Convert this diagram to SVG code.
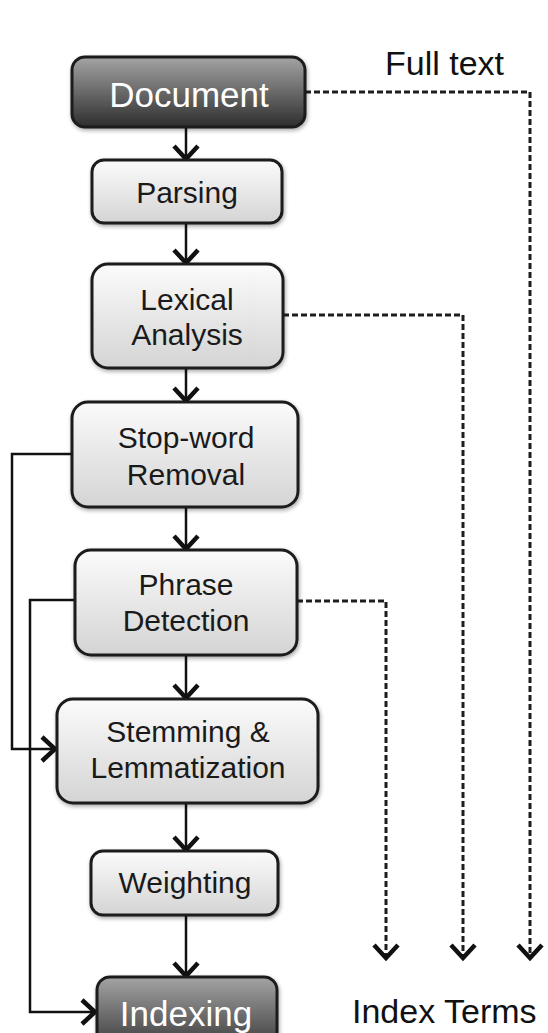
<svg xmlns="http://www.w3.org/2000/svg" width="548" height="1033" viewBox="0 0 548 1033">
  <defs>
    <linearGradient id="gLight" x1="0" y1="0" x2="0" y2="1">
      <stop offset="0" stop-color="#fbfbfb"/>
      <stop offset="1" stop-color="#d4d4d4"/>
    </linearGradient>
    <linearGradient id="gDark" x1="0" y1="0" x2="0" y2="1">
      <stop offset="0" stop-color="#a4a4a4"/>
      <stop offset="1" stop-color="#2e2e2e"/>
    </linearGradient>
    <filter id="shadow" x="-10%" y="-10%" width="125%" height="130%">
      <feGaussianBlur in="SourceAlpha" stdDeviation="2"/>
      <feOffset dx="1" dy="2" result="b"/>
      <feComponentTransfer><feFuncA type="linear" slope="0.35"/></feComponentTransfer>
      <feMerge><feMergeNode/><feMergeNode in="SourceGraphic"/></feMerge>
    </filter>
    <!-- open chevron arrowhead, drawn pointing along +x -->
    <marker id="chev" viewBox="0 0 18 28" refX="15" refY="14" markerWidth="18" markerHeight="28" markerUnits="userSpaceOnUse" orient="auto">
      <path d="M2,2 L15,14 L2,26" fill="none" stroke="#111" stroke-width="4.5"/>
    </marker>
  </defs>
  <style>
    .box { fill: url(#gLight); stroke: #1a1a1a; stroke-width: 3; filter: url(#shadow); }
    .dark { fill: url(#gDark); stroke: #1a1a1a; stroke-width: 3; filter: url(#shadow); }
    .lbl { font-family: "Liberation Sans", Arial, sans-serif; font-size: 30px; fill: #1a1a1a; text-anchor: middle; }
    .wlbl { font-family: "Liberation Sans", Arial, sans-serif; font-size: 35px; fill: #ffffff; text-anchor: middle; }
    .cap { font-family: "Liberation Sans", Arial, sans-serif; font-size: 34px; fill: #111; }
    .solid { fill: none; stroke: #111; stroke-width: 2.5; }
    .dash { fill: none; stroke: #1e1e1e; stroke-width: 3; stroke-dasharray: 6 3; }
    .head { fill: none; stroke: #111; stroke-width: 4.5; }
  </style>

  <rect width="548" height="1033" fill="#ffffff"/>

  <!-- connectors -->
  <g id="connectors">
    <!-- main flow -->
    <line class="solid" x1="186" y1="127" x2="186" y2="159" marker-end="url(#chev)"/>
    <line class="solid" x1="186" y1="223" x2="186" y2="263" marker-end="url(#chev)"/>
    <line class="solid" x1="186" y1="368" x2="186" y2="401" marker-end="url(#chev)"/>
    <line class="solid" x1="186" y1="507" x2="186" y2="549" marker-end="url(#chev)"/>
    <line class="solid" x1="186" y1="655" x2="186" y2="698" marker-end="url(#chev)"/>
    <line class="solid" x1="186" y1="803" x2="186" y2="850" marker-end="url(#chev)"/>
    <line class="solid" x1="186" y1="915" x2="186" y2="976" marker-end="url(#chev)"/>
    <!-- bypass lines on the left -->
    <polyline class="solid" points="72,454 12,454 12,749 55,749" marker-end="url(#chev)"/>
    <polyline class="solid" points="75,600 30,600 30,1012 95,1012" marker-end="url(#chev)"/>
    <!-- index term outputs -->
    <polyline class="dash" points="305,92 530,92 530,956"/>
    <polyline class="dash" points="283,315 463,315 463,956"/>
    <polyline class="dash" points="297,601 386,601 386,956"/>
    <path class="head" d="M374,945 L386,958 L398,945 M451,945 L463,958 L475,945 M518,945 L530,958 L542,945"/>
  </g>

  <g id="document">
    <rect class="dark" x="72" y="57" width="233" height="70" rx="13"/>
    <text class="wlbl" x="189" y="107">Document</text>
  </g>
  <g id="parsing">
    <rect class="box" x="92" y="160" width="190" height="63" rx="12"/>
    <text class="lbl" x="187" y="203">Parsing</text>
  </g>
  <g id="lexical">
    <rect class="box" x="92" y="264" width="191" height="104" rx="16"/>
    <text class="lbl" x="187" y="310">Lexical</text>
    <text class="lbl" x="187" y="345">Analysis</text>
  </g>
  <g id="stopword">
    <rect class="box" x="72" y="402" width="226" height="105" rx="16"/>
    <text class="lbl" x="186" y="448">Stop-word</text>
    <text class="lbl" x="186" y="485">Removal</text>
  </g>
  <g id="phrase">
    <rect class="box" x="75" y="550" width="222" height="105" rx="16"/>
    <text class="lbl" x="186" y="595">Phrase</text>
    <text class="lbl" x="186" y="631">Detection</text>
  </g>
  <g id="stemming">
    <rect class="box" x="57" y="699" width="261" height="104" rx="16"/>
    <text class="lbl" x="188" y="742">Stemming &amp;</text>
    <text class="lbl" x="188" y="778">Lemmatization</text>
  </g>
  <g id="weighting">
    <rect class="box" x="91" y="851" width="187" height="64" rx="12"/>
    <text class="lbl" x="185" y="893">Weighting</text>
  </g>
  <g id="indexing">
    <rect class="dark" x="97" y="977" width="180" height="80" rx="13"/>
    <text class="wlbl" x="186" y="1026">Indexing</text>
  </g>

  <g id="labels">
    <text class="cap" x="385" y="75">Full text</text>
    <text class="cap" x="352" y="1023">Index Terms</text>
  </g>
</svg>
